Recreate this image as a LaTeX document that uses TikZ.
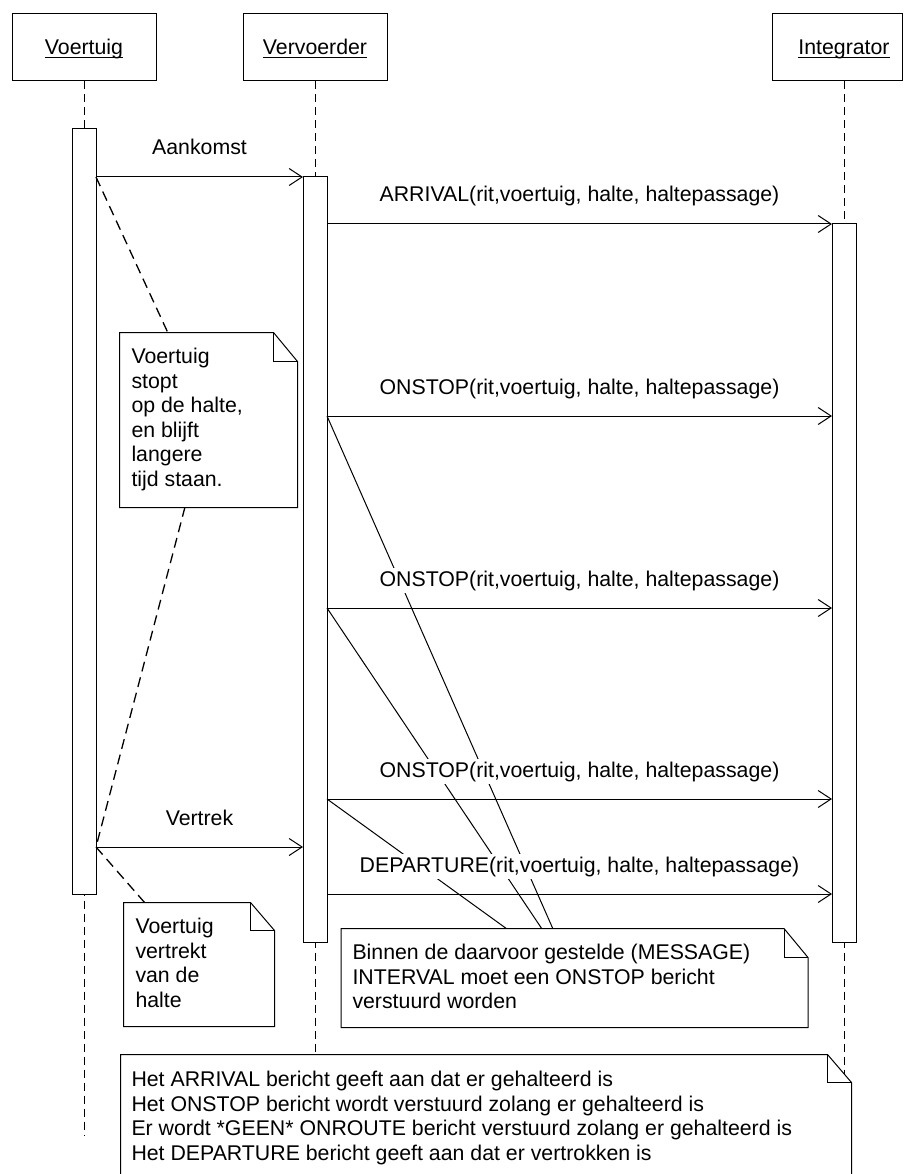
\documentclass[tikz,border=0pt]{standalone}
\usepackage{fontspec}
\setmainfont{Liberation Sans}
\usetikzlibrary{arrows.meta}
\newcommand\hdul[1]{\setbox0=\hbox{#1}\rlap{\rule[-2.8pt]{\wd0}{1pt}}\box0}
\newcommand\fst{\rule{0pt}{17pt}}
\begin{document}
\begin{tikzpicture}[x=1pt,y=-1pt, line width=1pt,
  txt/.style={font=\fontsize{21.3pt}{24.6pt}\selectfont, inner sep=0pt},
  head/.style={draw, fill=white, minimum width=144pt, minimum height=67pt, inner sep=0pt,
    text height=15.5pt, text depth=0.5pt, font=\fontsize{21.3pt}{24.6pt}\selectfont},
  bar/.style={draw, fill=white, minimum width=24pt, inner sep=0pt},
  life/.style={dash pattern=on 8pt off 5pt},
  msg/.style={-{Straight Barb[length=13pt,width=17pt]}},
  lbl/.style={txt, fill=white, inner xsep=1pt, inner ysep=3pt, anchor=base},
  notec/.style={line width=1.3pt, dash pattern=on 10pt off 6pt},
  notebox/.style={inner sep=0pt},
  notepath/.style={draw, fill=white},
  ntext/.style={txt, align=left, anchor=north west}
]
\useasboundingbox (0,0) rectangle (903,1174);
\fill[white] (0,0) rectangle (903,1174);

% heads
\node[head] (hv) at (84,47.5) {\hdul{Voertuig}};
\node[head] (hr) at (315,47.5) {\hdul{Vervoerder}};
\node[head, minimum width=130pt] (hi) at (837,47.5) {\hspace*{14pt}\hdul{Integrator}};

% lifelines
\coordinate (vend) at (84,1135);
\coordinate (rend) at (315,1180);
\coordinate (iend) at (844,1180);
\draw[life] (hv.south) -- (vend);
\draw[life] (hr.south) -- (rend);
\draw[life] ([xshift=7pt]hi.south) -- (iend);

% activation bars
\node[bar, minimum height=765pt] (bv) at (84,511.5) {};
\node[bar, minimum height=765pt] (br) at (315,559.5) {};
\node[bar, minimum height=718pt] (bi) at (844,583) {};

% message end points
\coordinate (m1s) at (96,177);  \coordinate (m1e) at (303,177);
\coordinate (m2s) at (327,224); \coordinate (m2e) at (832,224);
\coordinate (m3s) at (327,416); \coordinate (m3e) at (832,416);
\coordinate (m4s) at (327,608); \coordinate (m4e) at (832,608);
\coordinate (m5s) at (327,799); \coordinate (m5e) at (832,799);
\coordinate (m6s) at (96,847);  \coordinate (m6e) at (303,847);
\coordinate (m7s) at (327,894); \coordinate (m7e) at (832,894);

% note anchor points
\coordinate (n1a) at (168,333);
\coordinate (n1b) at (185,507);
\coordinate (n2a) at (145,903);
\coordinate (n3a) at (553,929);
\coordinate (n3b) at (542,929);
\coordinate (n3c) at (507,929);

% note connectors
\draw[notec] (m1s) -- (n1a);
\draw[notec] (n1b) -- (m6s);
\draw[notec] (m6s) -- (n2a);
\draw (m3s) -- (n3a);
\draw (m4s) -- (n3b);
\draw (m5s) -- (n3c);

% messages
\draw[msg] (m1s) -- (m1e);
\draw[msg] (m2s) -- (m2e);
\draw[msg] (m3s) -- (m3e);
\draw[msg] (m4s) -- (m4e);
\draw[msg] (m5s) -- (m5e);
\draw[msg] (m6s) -- (m6e);
\draw[msg] (m7s) -- (m7e);

\node[lbl] (l1) at (199.5,155) {Aankomst};
\node[lbl] (l2) at (579.5,202) {ARRIVAL(rit,voertuig, halte, haltepassage)};
\node[lbl] (l3) at (579.5,394) {ONSTOP(rit,voertuig, halte, haltepassage)};
\node[lbl] (l4) at (579.5,586) {ONSTOP(rit,voertuig, halte, haltepassage)};
\node[lbl] (l5) at (579.5,777) {ONSTOP(rit,voertuig, halte, haltepassage)};
\node[lbl] (l6) at (199.5,825) {Vertrek};
\node[lbl] (l7) at (579.5,872) {DEPARTURE(rit,voertuig, halte, haltepassage)};

% notes
\node[notebox, minimum width=177pt, minimum height=174pt] (n1) at (208.5,420) {};
\draw[notepath] (n1.north west) -- ([xshift=-24pt]n1.north east) -- ([yshift=-29pt]n1.north east) -- (n1.south east) -- (n1.south west) -- cycle;
\draw ([xshift=-24pt]n1.north east) |- ([yshift=-29pt]n1.north east);
\node[ntext] (t1) at (131,346) {\fst Voertuig\\stopt\\op de halte,\\en blijft\\langere\\tijd staan.};

\node[notebox, minimum width=150pt, minimum height=123pt] (n2) at (199,964.5) {};
\draw[notepath] (n2.north west) -- ([xshift=-24pt]n2.north east) -- ([yshift=-28pt]n2.north east) -- (n2.south east) -- (n2.south west) -- cycle;
\draw ([xshift=-24pt]n2.north east) |- ([yshift=-28pt]n2.north east);
\node[ntext] (t2) at (135,916) {\fst Voertuig\\vertrekt\\van de\\halte};

\node[notebox, minimum width=466pt, minimum height=98pt] (n3) at (574.5,978) {};
\draw[notepath] (n3.north west) -- ([xshift=-24pt]n3.north east) -- ([yshift=-29pt]n3.north east) -- (n3.south east) -- (n3.south west) -- cycle;
\draw ([xshift=-24pt]n3.north east) |- ([yshift=-29pt]n3.north east);
\node[ntext] (t3) at (352,942) {\fst Binnen de daarvoor gestelde (MESSAGE)\\INTERVAL moet een ONSTOP bericht\\verstuurd worden};

\node[notebox, minimum width=730pt, minimum height=145pt] (n4) at (486,1127.5) {};
\draw[notepath] (n4.north west) -- ([xshift=-24pt]n4.north east) -- ([yshift=-28pt]n4.north east) -- (n4.south east) -- (n4.south west) -- cycle;
\draw ([xshift=-24pt]n4.north east) |- ([yshift=-28pt]n4.north east);
\node[ntext] (t4) at (131,1069) {\fst Het ARRIVAL bericht geeft aan dat er gehalteerd is\\Het ONSTOP bericht wordt verstuurd zolang er gehalteerd is\\Er wordt *GEEN* ONROUTE bericht verstuurd zolang er gehalteerd is\\Het DEPARTURE bericht geeft aan dat er vertrokken is};
\end{tikzpicture}
\end{document}
